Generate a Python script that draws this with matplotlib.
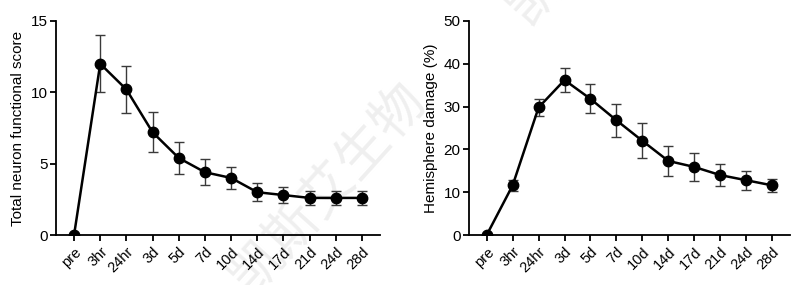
import matplotlib
matplotlib.use("Agg")
import matplotlib.pyplot as plt
import numpy as np

plt.rcParams['font.family'] = ['Liberation Sans', 'DejaVu Sans']

categories = ["pre", "3hr", "24hr", "3d", "5d", "7d", "10d", "14d", "17d", "21d", "24d", "28d"]
score_mean = [0, 12.0, 10.2, 7.2, 5.4, 4.4, 4.0, 3.0, 2.8, 2.6, 2.6, 2.6]
score_err = [0, 2.0, 1.65, 1.4, 1.15, 0.9, 0.8, 0.62, 0.56, 0.5, 0.5, 0.5]
damage_mean = [0, 11.6, 29.8, 36.2, 31.8, 26.8, 22.0, 17.3, 15.9, 14.0, 12.8, 11.6]
damage_err = [0, 1.3, 1.9, 2.7, 3.4, 3.9, 4.1, 3.5, 3.2, 2.6, 2.2, 1.5]

fig = plt.figure(figsize=(8, 2.85), dpi=100)
ax1 = fig.add_axes([0.07, 0.1754, 0.405, 0.751])
ax2 = fig.add_axes([0.586, 0.1754, 0.4015, 0.751])

x = np.arange(len(categories))

def style(ax, mean, err, ylim, yticks, ylabel):
    ax.errorbar(x, mean, yerr=err, color='black', lw=1.8,
                marker='o', markersize=7.5, ecolor='#3a3a3a', elinewidth=1.0,
                capsize=3.5, capthick=1.0, zorder=3)
    ax.set_xlim(-0.69, 11.69)
    ax.set_ylim(*ylim)
    ax.set_yticks(yticks)
    ax.set_xticks(x)
    ax.set_xticklabels(categories, rotation=45, ha='right', rotation_mode='anchor', fontsize=10.5)
    ax.tick_params(axis='y', labelsize=11, width=1.3, length=4, color='black', pad=2)
    ax.tick_params(axis='x', width=1.3, length=4, pad=3)
    for s in ['top', 'right']:
        ax.spines[s].set_visible(False)
    for s in ['left', 'bottom']:
        ax.spines[s].set_linewidth(1.3)
    ax.set_ylabel(ylabel, fontsize=11, labelpad=4)
    ax.patch.set_alpha(0)

style(ax1, score_mean, score_err, (0, 15), [0, 5, 10, 15], "Total neuron functional score")
style(ax2, damage_mean, damage_err, (0, 50), [0, 10, 20, 30, 40, 50], "Hemisphere damage (%)")

# faint watermark
wm = "凯斯艾生物"
fig.text(328 / 800, 1 - 187 / 285, wm, family=['Noto Sans CJK SC'], fontsize=38,
         color='#efefef', rotation=48, ha='center', va='center', zorder=-1)
fig.text(605 / 800, 1 + 83 / 285, wm, family=['Noto Sans CJK SC'], fontsize=38,
         color='#efefef', rotation=48, ha='center', va='center', zorder=-1)

fig.savefig("out.png", dpi=100)
